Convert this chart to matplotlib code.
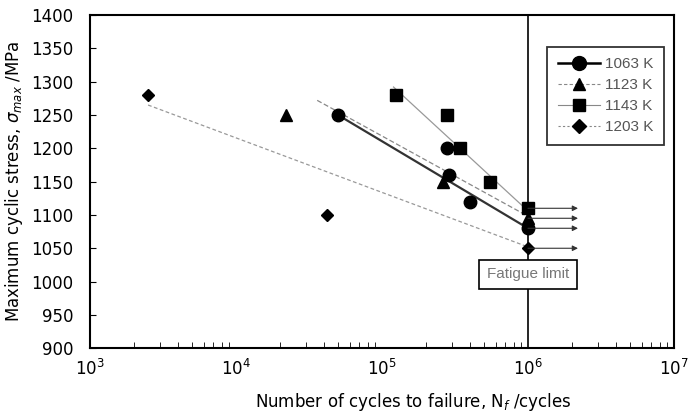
import matplotlib
matplotlib.use('Agg')
import matplotlib.pyplot as plt
import numpy as np

plt.rcParams['font.family'] = ['DejaVu Sans']

# measured points (cycles to failure, max stress)
n_1063 = [5.0e4, 2.8e5, 2.9e5, 4.0e5, 1.0e6]
s_1063 = [1250, 1200, 1160, 1120, 1080]
n_1123 = [2.2e4, 2.6e5, 1.0e6]
s_1123 = [1250, 1150, 1095]
n_1143 = [1.25e5, 2.8e5, 3.4e5, 5.5e5, 1.0e6]
s_1143 = [1280, 1250, 1200, 1150, 1110]
n_1203 = [2.5e3, 4.2e4, 1.0e6]
s_1203 = [1280, 1100, 1050]

# fitted lines (end points)
fit_n_1063 = [5.0e4, 1.0e6]
fit_s_1063 = [1250, 1080]
fit_n_1123 = [3.6e4, 1.0e6]
fit_s_1123 = [1272, 1098]
fit_n_1143 = [1.2e5, 1.0e6]
fit_s_1143 = [1292, 1106]
fit_n_1203 = [2.5e3, 1.0e6]
fit_s_1203 = [1265, 1052]

# run-out arrows
runout_s = [1110, 1095, 1080, 1050]
runout_end = 2.2e6

fig = plt.figure(figsize=(6.92, 4.19), dpi=100)
ax = fig.add_axes([0.130, 0.169, 0.844, 0.795])

ax.plot(fit_n_1063, fit_s_1063, color='#333333', lw=1.6, zorder=2)
ax.plot(fit_n_1123, fit_s_1123, color='#888888', lw=0.9, ls=(0, (4, 2)), zorder=2)
ax.plot(fit_n_1143, fit_s_1143, color='#999999', lw=0.9, zorder=2)
ax.plot(fit_n_1203, fit_s_1203, color='#999999', lw=0.9, ls=(0, (3, 2)), zorder=2)

ax.plot(n_1063, s_1063, 'o', color='black', ms=9, zorder=3)
ax.plot(n_1123, s_1123, '^', color='black', ms=8, zorder=3)
ax.plot(n_1143, s_1143, 's', color='black', ms=8, zorder=3)
ax.plot(n_1203, s_1203, 'D', color='black', ms=6, zorder=3)

for s in runout_s:
    ax.annotate('', xy=(runout_end, s), xytext=(1.0e6, s),
                arrowprops=dict(arrowstyle='-|>', color='#333333', lw=0.8,
                                mutation_scale=8, shrinkA=0, shrinkB=0))

ax.axvline(1.0e6, color='black', lw=1.2, zorder=1)
ax.text(1.0e6, 1011, 'Fatigue limit', ha='center', va='center', fontsize=11,
        color='#777777', family='Liberation Sans',
        bbox=dict(boxstyle='square,pad=0.5', fc='white', ec='black', lw=1.2))

# legend handles
h1, = ax.plot([], [], '-o', color='black', ms=10, lw=1.8)
h2, = ax.plot([], [], '^', color='#888888', ms=9, ls=(0, (3, 2)), lw=0.8,
              mfc='black', mec='black')
h3, = ax.plot([], [], '-s', color='#888888', ms=9, lw=0.8,
              mfc='black', mec='black')
h4, = ax.plot([], [], 'D', color='#888888', ms=7, ls=(0, (2, 2)), lw=0.8,
              mfc='black', mec='black')
leg = ax.legend([h1, h2, h3, h4], ['1063 K', '1123 K', '1143 K', '1203 K'],
                loc='upper right', bbox_to_anchor=(0.983, 0.905), fancybox=False,
                edgecolor='black', handlelength=2.8,
                prop={'family': 'Liberation Sans', 'size': 11},
                labelspacing=0.45, borderpad=0.7, handletextpad=0.3,
                borderaxespad=0)
leg.get_frame().set_linewidth(1.3)
for t in leg.get_texts():
    t.set_color('#555555')

ax.set_xscale('log')
ax.set_xlim(1e3, 1e7)
ax.set_ylim(900, 1400)
ax.set_yticks(np.arange(900, 1401, 50))
ax.set_xticks([1e3, 1e4, 1e5, 1e6, 1e7])
ax.tick_params(axis='both', which='both', direction='in', labelsize=12)
ax.tick_params(axis='x', which='major', length=0, pad=8)
ax.tick_params(axis='x', which='minor', length=4)
ax.tick_params(axis='y', which='major', length=4, pad=12)
for sp in ax.spines.values():
    sp.set_linewidth(1.5)

ax.set_xlabel('Number of cycles to failure, N$_f$ /cycles', fontsize=12)
ax.xaxis.set_label_coords(0.553, -0.13)
ax.set_ylabel('Maximum cyclic stress, $\\sigma_{max}$ /MPa', fontsize=12, labelpad=4)

fig.savefig('out.png', dpi=100)
